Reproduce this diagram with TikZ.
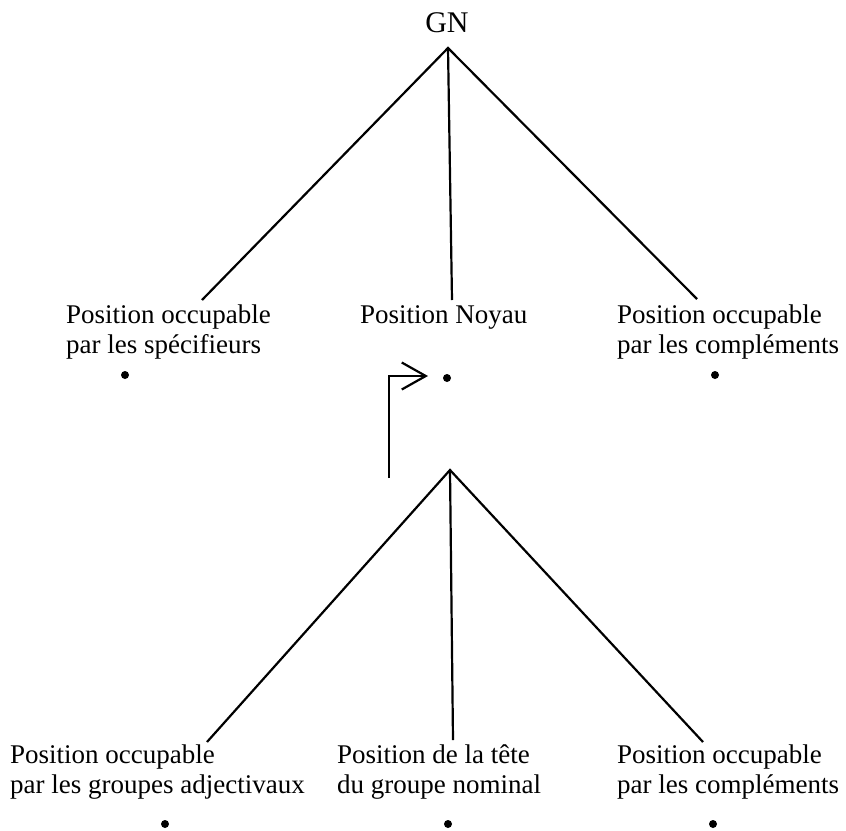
\documentclass[tikz,border=0pt]{standalone}
\usepackage{fontspec}
\setmainfont{Liberation Serif}
\usetikzlibrary{arrows.meta}
\begin{document}
\begin{tikzpicture}[x=1pt,y=-1pt,
  lbl/.style={anchor=base west,inner sep=0pt,align=left,font=\fontsize{27}{30}\selectfont},
  branch/.style={line width=2.2pt},
  pt/.style={circle,fill=black,inner sep=0pt,minimum size=8pt}]
\useasboundingbox (0,0) rectangle (846,830);
\node[inner sep=0pt,anchor=base,font=\fontsize{30}{32}\selectfont] (gn) at (447,32) {GN};
\coordinate (a1) at (448,48);
% two-line nodes: base anchor = baseline of the last line
\node[lbl] (s1) at (66,353) {Position occupable\\par les spécifieurs};
\node[lbl] (n1) at (360,323) {Position Noyau};
\node[lbl] (c1) at (617,353) {Position occupable\\par les compléments};
\coordinate (e1l) at (202,300);
\coordinate (e1m) at (452,300);
\coordinate (e1r) at (697,299);
\draw[branch] (e1l) -- (a1) -- (e1r);
\draw[branch] (a1) -- (e1m);
\node[pt] (d1l) at (125,375) {};
\node[pt] (d1m) at (447,378) {};
\node[pt] (d1r) at (715,375) {};
\coordinate (a2) at (450,470);
\coordinate (arrS) at (389,478);
\coordinate (arrC) at (389,376);
\coordinate (arrE) at (428,376);
\draw[branch,-{Straight Barb[length=24pt,width=27pt,line width=2.2pt]}] (arrS) -- (arrC) -- (arrE);
\node[lbl] (s2) at (10,793) {Position occupable\\par les groupes adjectivaux};
\node[lbl] (n2) at (337,793) {Position de la tête\\du groupe nominal};
\node[lbl] (c2) at (617,793) {Position occupable\\par les compléments};
\coordinate (e2l) at (207,742);
\coordinate (e2m) at (453,740);
\coordinate (e2r) at (703,742);
\draw[branch] (e2l) -- (a2) -- (e2r);
\draw[branch] (a2) -- (e2m);
\node[pt] (d2l) at (165,824) {};
\node[pt] (d2m) at (448,824) {};
\node[pt] (d2r) at (713,824) {};
\end{tikzpicture}
\end{document}
